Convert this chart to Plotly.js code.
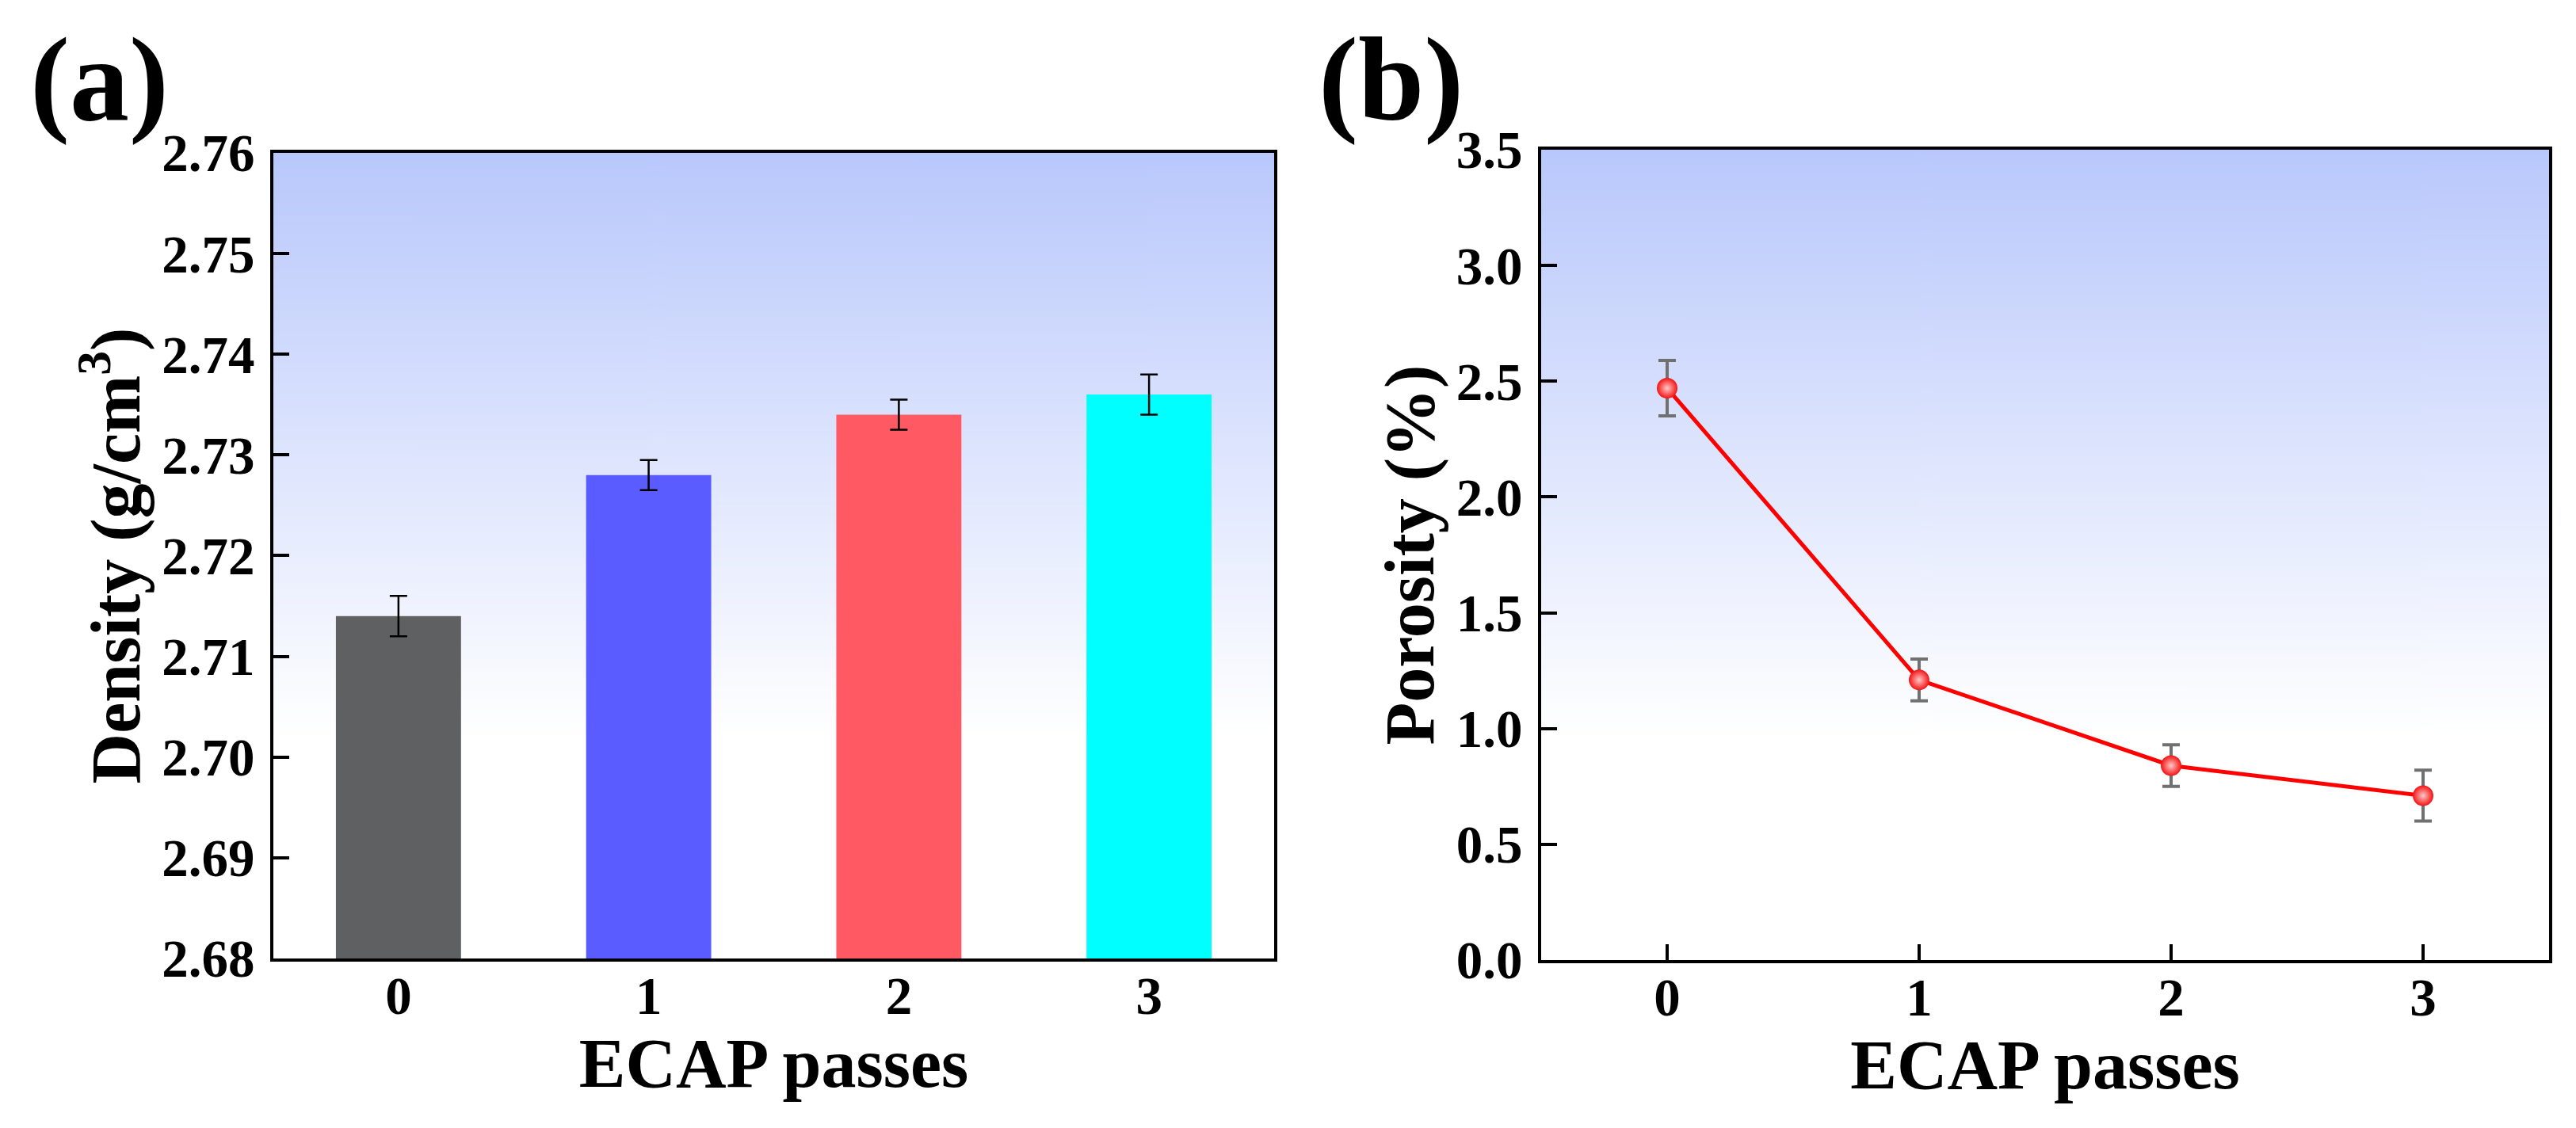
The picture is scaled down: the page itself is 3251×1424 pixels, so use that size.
<!DOCTYPE html>
<html><head><meta charset="utf-8">
<script src="https://cdn.plot.ly/plotly-3.0.1.min.js"></script>
<style>html,body{margin:0;padding:0;background:#fff}</style>
</head><body><div id="chart" style="width:3251px;height:1424px"></div>
<script>
// ---- data ----
const passes = [0, 1, 2, 3];
const passLabels = ['0', '1', '2', '3'];
const density = [2.714, 2.728, 2.734, 2.736];
const densityErr = [0.002, 0.0015, 0.0015, 0.002];
const barColors = ['#5f6062', '#5a5cff', '#ff5a63', '#00ffff'];
const porosity = [2.47, 1.21, 0.84, 0.71];
const porosityErr = [0.12, 0.09, 0.09, 0.11];

const F = '"Liberation Serif", "Times New Roman", serif';
const tickFont = {family: F, size: 67, color: '#000', weight: 'bold'};
const titleFont = {family: F, size: 88, color: '#000', weight: 'bold'};

function gradientURL() {
  const c = document.createElement('canvas');
  c.width = 4; c.height = 512;
  const g = c.getContext('2d');
  const lg = g.createLinearGradient(0, 0, 0, 512);
  lg.addColorStop(0, '#b9c8fc');
  lg.addColorStop(0.72, '#ffffff');
  lg.addColorStop(1, '#ffffff');
  g.fillStyle = lg;
  g.fillRect(0, 0, 4, 512);
  return c.toDataURL();
}
const bg = gradientURL();

const common = {
  showline: true, linecolor: '#000', linewidth: 4, mirror: true,
  ticks: 'inside', ticklen: 20, tickwidth: 4, tickcolor: '#000',
  showgrid: false, zeroline: false, tickfont: tickFont
};

const traces = [
  {
    type: 'bar', x: passes, y: density, width: 0.5,
    marker: {color: barColors, line: {width: 0}},
    error_y: {type: 'data', array: densityErr, visible: true, color: '#000', thickness: 2.5, width: 11},
    xaxis: 'x', yaxis: 'y', showlegend: false, hoverinfo: 'none'
  },
  {
    type: 'scatter', mode: 'lines+markers', x: passes, y: porosity,
    line: {color: '#ff0000', width: 5},
    marker: {size: 26, color: '#f41212', gradient: {type: 'radial', color: '#ffc8c8'}, line: {width: 0}},
    error_y: {type: 'data', array: porosityErr, visible: true, color: '#707070', thickness: 4, width: 11},
    xaxis: 'x2', yaxis: 'y2', showlegend: false, hoverinfo: 'none'
  }
];

const layout = {
  width: 3251, height: 1424,
  margin: {l: 0, r: 0, t: 0, b: 0},
  paper_bgcolor: '#fff', plot_bgcolor: 'rgba(0,0,0,0)',
  showlegend: false,
  xaxis: Object.assign({}, common, {
    domain: [0.10612, 0.49462], range: [-0.5, 3.5],
    tickvals: passes, ticktext: passLabels, ticks: '', ticklabelstandoff: -14,
    title: {text: 'ECAP passes', font: titleFont, standoff: 0}
  }),
  yaxis: Object.assign({}, common, {
    domain: [0.15028, 0.86447], range: [2.68, 2.76], dtick: 0.01, tickformat: '.2f',
    ticklabelstandoff: 6,
    title: {text: 'Density (g/cm<sup>3</sup>)', font: titleFont, standoff: 0}
  }),
  xaxis2: Object.assign({}, common, {
    domain: [0.59828, 0.98954], range: [-0.5, 3.5], anchor: 'y2',
    tickvals: passes, ticktext: passLabels, ticklabelstandoff: -14,
    title: {text: 'ECAP passes', font: titleFont, standoff: 0}
  }),
  yaxis2: Object.assign({}, common, {
    domain: [0.14888, 0.86728], range: [0, 3.5], dtick: 0.5, tickformat: '.1f', anchor: 'x2',
    ticklabelstandoff: 6,
    title: {text: 'Porosity (%)', font: titleFont, standoff: 0}
  }),
  images: [
    {source: bg, xref: 'x domain', yref: 'y domain', x: 0, y: 1, sizex: 1, sizey: 1,
     sizing: 'stretch', xanchor: 'left', yanchor: 'top', layer: 'below'},
    {source: bg, xref: 'x2 domain', yref: 'y2 domain', x: 0, y: 1, sizex: 1, sizey: 1,
     sizing: 'stretch', xanchor: 'left', yanchor: 'top', layer: 'below'}
  ],
  annotations: [
    {text: '(a)', xref: 'paper', yref: 'paper', x: 126 / 3251, y: 1 - 100 / 1424,
     xanchor: 'center', yanchor: 'middle', showarrow: false,
     font: {family: F, size: 150, color: '#000', weight: 'bold'}},
    {text: '(b)', xref: 'paper', yref: 'paper', x: 1755 / 3251, y: 1 - 100 / 1424,
     xanchor: 'center', yanchor: 'middle', showarrow: false,
     font: {family: F, size: 150, color: '#000', weight: 'bold'}}
  ]
};

Plotly.newPlot('chart', traces, layout, {displayModeBar: false, staticPlot: true});
</script>
</body></html>
